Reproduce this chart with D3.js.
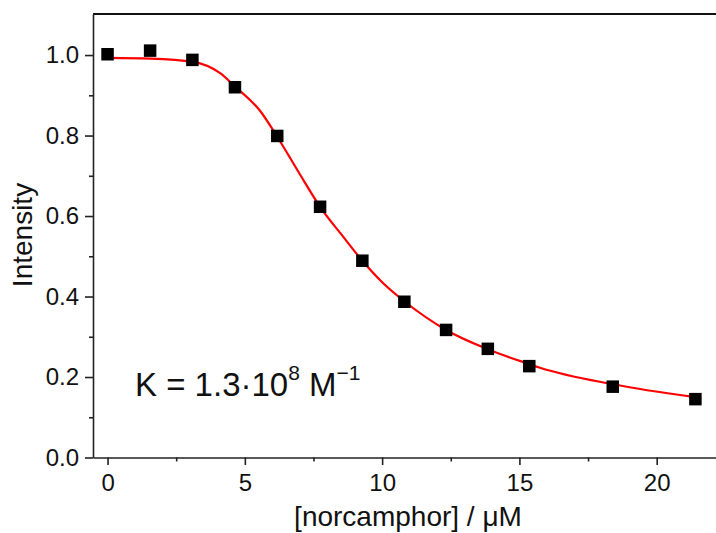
<!DOCTYPE html>
<html lang="en">
<head>
  <meta charset="UTF-8">
  <title>Intensity vs norcamphor</title>
  <script src="https://d3js.org/d3.v7.min.js"></script>
  <style>
    body { margin: 0; background: #fff; }
    svg { font-family: "Liberation Sans", Arial, Helvetica, sans-serif; }
    .axis path, .axis line { stroke: #222; stroke-width: 1.6px; }
    .axis text { font-size: 24px; fill: #111; }
    .label { font-size: 28px; fill: #111; }
  </style>
</head>
<body>
  <script>
    const width = 716, height = 533;

    // measured points
    const conc = [0, 1.55, 3.09, 4.64, 6.18, 7.74, 9.28, 10.81, 12.33, 13.85, 15.36, 18.40, 21.41];
    const intensity = [1.002, 1.011, 0.988, 0.920, 0.799, 0.623, 0.489, 0.387, 0.317, 0.270, 0.227, 0.176, 0.145];

    // fit curve
    const fitX = [0, 1.55, 3.1, 4.1, 4.64, 5.56, 6.18, 6.95, 7.74, 8.53, 9.28, 10.04, 10.83, 12.33, 13.85, 15.36, 15.75, 18.4, 21.4];
    const fitY = [0.993, 0.991, 0.983, 0.955, 0.922, 0.861, 0.797, 0.710, 0.623, 0.553, 0.489, 0.433, 0.387, 0.317, 0.269, 0.232, 0.223, 0.182, 0.150];

    const xMajor = [0, 5, 10, 15, 20];
    const xMinor = [2.5, 7.5, 12.5, 17.5];
    const yMajor = [0, 0.2, 0.4, 0.6, 0.8, 1.0];
    const yMinor = [0.1, 0.3, 0.5, 0.7, 0.9];

    const svg = d3.select("body").append("svg")
      .attr("width", width)
      .attr("height", height);

    const plotLeft = 93, plotRight = 716, plotTop = 14, plotBottom = 457.5;

    const x = d3.scaleLinear().domain([-0.53, 22.16]).range([plotLeft, plotRight]);
    const y = d3.scaleLinear().domain([0, 1.102]).range([plotBottom, plotTop]);

    // top frame line
    svg.append("line")
      .attr("x1", plotLeft).attr("x2", plotRight)
      .attr("y1", plotTop).attr("y2", plotTop)
      .attr("stroke", "#111").attr("stroke-width", 2);

    // minor ticks first
    svg.append("g").attr("class", "axis")
      .attr("transform", `translate(0,${plotBottom})`)
      .call(d3.axisBottom(x).tickValues(xMinor).tickSize(4).tickSizeOuter(0).tickFormat(""))
      .select(".domain").remove();
    svg.append("g").attr("class", "axis")
      .attr("transform", `translate(${plotLeft},0)`)
      .call(d3.axisLeft(y).tickValues(yMinor).tickSize(4).tickSizeOuter(0).tickFormat(""))
      .select(".domain").remove();

    // major axes
    svg.append("g").attr("class", "axis")
      .attr("transform", `translate(0,${plotBottom})`)
      .call(d3.axisBottom(x).tickValues(xMajor).tickSize(7.5).tickSizeOuter(0).tickPadding(9).tickFormat(d3.format("d")));
    svg.append("g").attr("class", "axis")
      .attr("transform", `translate(${plotLeft},0)`)
      .call(d3.axisLeft(y).tickValues(yMajor).tickSize(8).tickSizeOuter(0).tickPadding(6).tickFormat(d3.format(".1f")));

    // fit line
    const line = d3.line()
      .x((d, i) => x(d))
      .y((d, i) => y(fitY[i]))
      .curve(d3.curveMonotoneX);
    svg.append("path")
      .datum(fitX)
      .attr("d", line)
      .attr("fill", "none")
      .attr("stroke", "#f00")
      .attr("stroke-width", 2.2);

    // square markers
    const s = 12.5;
    svg.append("g").selectAll("rect")
      .data(conc)
      .enter().append("rect")
      .attr("x", d => x(d) - s / 2)
      .attr("y", (d, i) => y(intensity[i]) - s / 2)
      .attr("width", s)
      .attr("height", s)
      .attr("fill", "#000");

    // axis titles
    svg.append("text")
      .attr("class", "label")
      .attr("text-anchor", "middle")
      .attr("x", 408).attr("y", 526)
      .text("[norcamphor] / \u03bcM");

    svg.append("text")
      .attr("class", "label")
      .attr("text-anchor", "middle")
      .attr("transform", "translate(32,235) rotate(-90)")
      .text("Intensity");

    // binding constant
    const k = svg.append("text")
      .attr("class", "label")
      .attr("x", 135).attr("y", 396)
      .style("font-size", "33px");
    k.append("tspan").text("K = 1.3\u00b710");
    k.append("tspan").attr("dy", -16).style("font-size", "21px").text("8");
    k.append("tspan").attr("dy", 16).text(" M");
    k.append("tspan").attr("dy", -16).style("font-size", "21px").text("\u22121");
  </script>
</body>
</html>
